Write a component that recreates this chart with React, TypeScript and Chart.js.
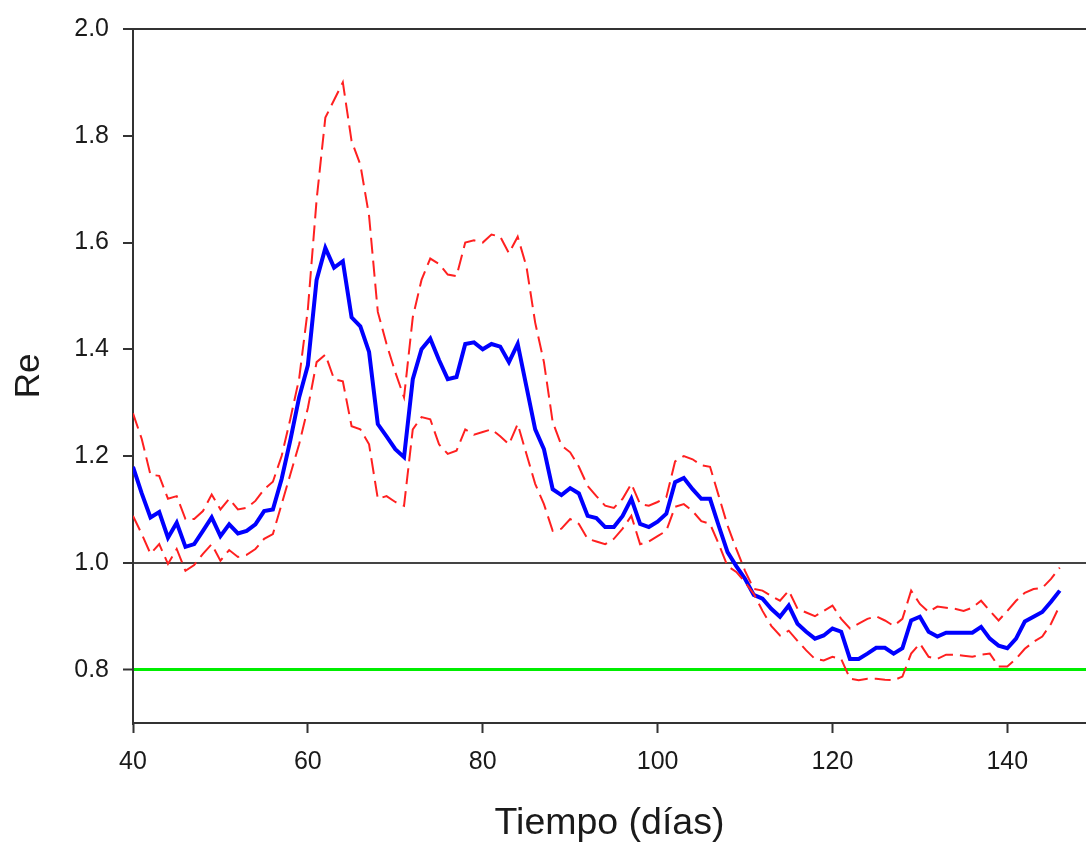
import React, { useEffect, useRef } from "react";
import { Chart, registerables } from "chart.js";
Chart.register(...registerables);

const days: number[] = Array.from({ length: 107 }, (_, i) => 40 + i);

const reMean: number[] = [
  1.18, 1.13, 1.085, 1.095, 1.047, 1.075, 1.03, 1.035, 1.06, 1.085,
  1.05, 1.072, 1.055, 1.06, 1.072, 1.097, 1.1, 1.157, 1.23, 1.31,
  1.37, 1.53, 1.59, 1.553, 1.565, 1.46, 1.443, 1.395, 1.26, 1.237,
  1.213, 1.198, 1.344, 1.4, 1.42, 1.38, 1.344, 1.348, 1.41, 1.413,
  1.4, 1.41, 1.405, 1.376, 1.41, 1.33, 1.25, 1.213, 1.138, 1.127,
  1.14, 1.13, 1.088, 1.084, 1.067, 1.067, 1.088, 1.12, 1.073, 1.067,
  1.077, 1.092, 1.151, 1.159, 1.138, 1.12, 1.12, 1.069, 1.02, 0.994,
  0.97, 0.94, 0.933, 0.914, 0.899, 0.92, 0.886, 0.871, 0.858, 0.864,
  0.877, 0.871, 0.82, 0.82, 0.83, 0.841, 0.841, 0.83, 0.84, 0.892,
  0.899, 0.871, 0.862, 0.869, 0.869, 0.869, 0.869, 0.88, 0.858, 0.845,
  0.84, 0.858, 0.89, 0.899, 0.908, 0.927, 0.948,
];

const reUpper: number[] = [
  1.28, 1.232, 1.165, 1.163, 1.12, 1.125, 1.082, 1.082, 1.097, 1.128,
  1.1, 1.12, 1.1, 1.103, 1.116, 1.138, 1.152, 1.2, 1.27, 1.345,
  1.475, 1.68, 1.834, 1.867, 1.9, 1.79, 1.746, 1.65, 1.47, 1.41,
  1.357, 1.31, 1.46, 1.53, 1.57, 1.56, 1.54, 1.537, 1.6, 1.604,
  1.6, 1.615, 1.611, 1.58, 1.611, 1.555, 1.45, 1.376, 1.264, 1.22,
  1.207, 1.18, 1.144, 1.125, 1.107, 1.103, 1.12, 1.148, 1.11, 1.107,
  1.114, 1.123, 1.19, 1.2, 1.194, 1.183, 1.18, 1.125, 1.07, 1.026,
  0.985, 0.951, 0.948, 0.938, 0.929, 0.948, 0.914, 0.907, 0.9, 0.91,
  0.92, 0.895, 0.877, 0.886, 0.895, 0.9, 0.892, 0.882, 0.895, 0.948,
  0.923, 0.908, 0.918, 0.916, 0.914, 0.91, 0.916, 0.929, 0.91, 0.892,
  0.91, 0.929, 0.944, 0.951, 0.953, 0.97, 0.991,
];

const reLower: number[] = [
  1.088, 1.054, 1.017, 1.035, 0.998, 1.026, 0.985, 0.996, 1.017, 1.035,
  1.004, 1.024, 1.011, 1.015, 1.026, 1.045, 1.054, 1.11, 1.166, 1.222,
  1.29, 1.376, 1.39, 1.344, 1.34, 1.256, 1.25, 1.222, 1.12, 1.125,
  1.114, 1.107, 1.25, 1.273, 1.269, 1.222, 1.204, 1.21, 1.25, 1.24,
  1.245, 1.25, 1.237, 1.222, 1.26, 1.204, 1.148, 1.11, 1.06, 1.064,
  1.082, 1.073, 1.045, 1.04, 1.035, 1.045, 1.064, 1.088, 1.035, 1.04,
  1.05, 1.06, 1.105, 1.11, 1.097, 1.078, 1.073, 1.035, 0.994, 0.983,
  0.964, 0.942, 0.91, 0.882, 0.864, 0.873, 0.854, 0.836, 0.82, 0.817,
  0.824, 0.82, 0.783, 0.78, 0.783, 0.783, 0.781, 0.78, 0.787, 0.83,
  0.849, 0.824, 0.82, 0.828, 0.828, 0.826, 0.824, 0.828, 0.83, 0.806,
  0.806, 0.82, 0.839, 0.852, 0.862, 0.886, 0.92,
];

const xTicks: number[] = [40, 60, 80, 100, 120, 140];
const yTicks: number[] = [0.8, 1.0, 1.2, 1.4, 1.6, 1.8, 2.0];
const refLines: number[] = [2.0, 1.0, 0.8];
const xTitle = "Tiempo (días)";
const yTitle = "Re";

const FONT = "'Liberation Sans', Arial, Helvetica, sans-serif";

export default function App() {
  const ref = useRef<HTMLCanvasElement>(null);
  useEffect(() => {
    document.body.style.margin = "0";
    const pts = (arr: number[]) => days.map((d, i) => ({ x: d, y: arr[i] }));
    const chart = new Chart(ref.current as HTMLCanvasElement, {
      type: "line",
      data: {
        datasets: [
          {
            data: pts(reUpper),
            borderColor: "#ff2020",
            borderWidth: 2,
            borderDash: [16, 7],
            pointRadius: 0,
            fill: false,
            tension: 0,
          },
          {
            data: pts(reLower),
            borderColor: "#ff2020",
            borderWidth: 2,
            borderDash: [16, 7],
            pointRadius: 0,
            fill: false,
            tension: 0,
          },
          {
            data: pts(reMean),
            borderColor: "#0000ff",
            borderWidth: 4,
            pointRadius: 0,
            fill: false,
            tension: 0,
          },
        ],
      },
      options: {
        animation: false,
        responsive: false,
        maintainAspectRatio: false,
        layout: { padding: { top: 29, right: 0, left: 0, bottom: 0 } },
        plugins: { legend: { display: false }, tooltip: { enabled: false } },
        scales: {
          x: {
            type: "linear",
            min: 40,
            max: 149,
            afterBuildTicks: (s: any) => {
              s.ticks = xTicks.map((v) => ({ value: v }));
            },
            afterFit: (s: any) => {
              s.height = 123;
            },
            grid: {
              drawOnChartArea: false,
              tickLength: 10,
              tickWidth: 2,
              tickColor: "#333",
            },
            border: { display: true, color: "#333", width: 2 },
            ticks: {
              font: { family: FONT, size: 25 },
              color: "#1a1a1a",
              padding: 14,
              maxRotation: 0,
              callback: (v: any) => String(v),
            },
            title: {
              display: true,
              text: xTitle,
              font: { family: FONT, size: 37.5 },
              color: "#1a1a1a",
              padding: { top: 0, bottom: 0 },
            },
          },
          y: {
            type: "linear",
            min: 0.7,
            max: 2.0,
            afterBuildTicks: (s: any) => {
              s.ticks = yTicks.map((v) => ({ value: v }));
            },
            afterFit: (s: any) => {
              s.width = 133;
            },
            grid: {
              drawOnChartArea: true,
              color: (ctx: any) => {
                const v = ctx.tick ? Math.round(ctx.tick.value * 10) / 10 : null;
                if (v === refLines[0]) return "#333";
                if (v === refLines[1]) return "#444";
                if (v === refLines[2]) return "#00ee00";
                return "rgba(0,0,0,0)";
              },
              lineWidth: (ctx: any) => {
                const v = ctx.tick ? Math.round(ctx.tick.value * 10) / 10 : null;
                if (v === refLines[2]) return 3;
                return 2;
              },
              tickLength: 10,
              tickWidth: 2,
              tickColor: "#333",
            },
            border: { display: true, color: "#333", width: 2 },
            ticks: {
              font: { family: FONT, size: 25 },
              color: "#1a1a1a",
              padding: 14,
              callback: (v: any) => Number(v).toFixed(1),
            },
            title: {
              display: true,
              text: yTitle,
              font: { family: FONT, size: 35 },
              color: "#1a1a1a",
              padding: { top: 8, bottom: 0 },
            },
          },
        },
      },
    });
    return () => chart.destroy();
  }, []);
  return (
    <canvas
      ref={ref}
      width={1086}
      height={846}
      style={{ display: "block", width: 1086, height: 846 }}
    />
  );
}
